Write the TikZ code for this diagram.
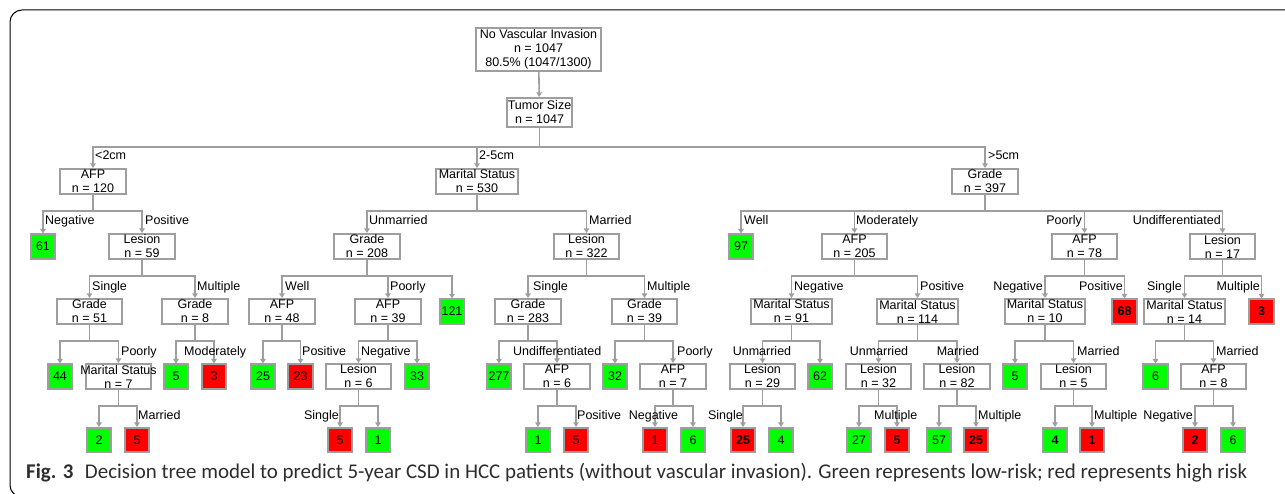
\documentclass[tikz,border=0pt]{standalone}
\usepackage{fontspec}
\usetikzlibrary{arrows.meta}
\newfontfamily\treefont{Liberation Sans}
\newfontfamily\capfont{Carlito}
\definecolor{lg}{RGB}{158,158,158}
\definecolor{lgreen}{RGB}{0,255,0}
\definecolor{lred}{RGB}{255,0,0}
\definecolor{capcol}{RGB}{45,45,45}
\tikzset{
 box/.style={draw=lg, line width=1.6pt, fill=white, minimum height=25.5pt, inner sep=0pt, align=center, font=\treefont\fontsize{12.5}{14}\selectfont},
 leaf/.style={draw=lg, line width=1.6pt, minimum width=24.5pt, minimum height=24.5pt, inner sep=0pt, font=\treefont\fontsize{12.5}{14}\selectfont},
 lab/.style={inner sep=0pt, font=\treefont\fontsize{12.5}{14}\selectfont},
 edge/.style={draw=lg, line width=1.6pt, -{Triangle[length=4.5pt,width=5.5pt]}},
}
\newcommand{\bx}[5]{\node[box, minimum width=#4pt] (#1) at (#2,#3) {#5};}
\newcommand{\lf}[5]{\node[leaf, fill=#4] (#1) at (#2,#3) {#5};}
\newcommand{\lb}[5]{\node[lab, anchor=#4] (#1) at (#2,#3) {#5};}
\newcommand{\ed}[3]{\draw[edge] (#1.south) -- ++(0,#3) -| (#2.north);}
\begin{document}
\begin{tikzpicture}[x=1pt,y=-1pt]
\useasboundingbox (0,0) rectangle (1285,494);
\draw[black, line width=1pt, rounded corners=12pt] (10,10) rectangle (1300,497);
% level 0-1
\node[box, minimum width=125.5pt, minimum height=43.5pt] (root) at (538.5,49.5) {No Vascular Invasion\\n = 1047\\80.5\% (1047/1300)};
\node[box, minimum width=65.5pt, minimum height=29.5pt] (ts) at (539.5,112.5) {Tumor Size\\n = 1047};
\draw[edge] (root) -- (ts);
% level 2
\bx{a120}{93}{181.5}{66.5}{AFP\\n = 120}
\bx{m530}{477}{181.5}{82.5}{Marital Status\\n = 530}
\bx{g397}{985}{181.5}{65.5}{Grade\\n = 397}
\ed{ts}{a120}{19}\ed{ts}{m530}{19}\ed{ts}{g397}{19}
\lb{t1}{95}{159.5}{base west}{<2cm}
\lb{t2}{479}{159.5}{base west}{2-5cm}
\lb{t3}{988}{159.5}{base west}{>5cm}
% level 3
\lf{f61}{43}{246.5}{lgreen}{61}
\bx{l59}{142}{246.5}{66.5}{Lesion\\n = 59}
\bx{g208}{367}{246.5}{66.5}{Grade\\n = 208}
\bx{l322}{586.5}{246.5}{65.5}{Lesion\\n = 322}
\lf{f97}{741}{246.5}{lgreen}{97}
\bx{a205}{854.5}{246.5}{65.5}{AFP\\n = 205}
\bx{a78}{1084.5}{246.5}{65.5}{AFP\\n = 78}
\bx{l17}{1222.5}{246.5}{65.5}{Lesion\\n = 17}
\ed{a120}{f61}{16}\ed{a120}{l59}{16}
\ed{m530}{g208}{16}\ed{m530}{l322}{16}
\ed{g397}{f97}{16}\ed{g397}{a205}{16}\ed{g397}{a78}{16}\ed{g397}{l17}{16}
\lb{s1}{45}{225}{base west}{Negative}
\lb{s2}{145}{225}{base west}{Positive}
\lb{s3}{369}{225}{base west}{Unmarried}
\lb{s4}{589}{225}{base west}{Married}
\lb{s5}{744}{225}{base west}{Well}
\lb{s6}{856}{225}{base west}{Moderately}
\lb{s7}{1082}{225}{base east}{Poorly}
\lb{s8}{1221}{225}{base east}{Undifferentiated}
% level 4
\bx{g51}{89.5}{311.5}{65.5}{Grade\\n = 51}
\bx{g8}{195}{311.5}{65.5}{Grade\\n = 8}
\bx{a48}{282}{311.5}{66.5}{AFP\\n = 48}
\bx{a39}{388}{311.5}{66.5}{AFP\\n = 39}
\lf{f121}{452}{311.5}{lgreen}{121}
\bx{g283}{528}{311.5}{66.5}{Grade\\n = 283}
\bx{g39}{644.5}{311.5}{65.5}{Grade\\n = 39}
\bx{m91}{791.5}{311.5}{81.5}{Marital Status\\n = 91}
\bx{m114}{917.5}{311.5}{80.5}{Marital Status\\n = 114}
\bx{m10}{1045}{311.5}{80.5}{Marital Status\\n = 10}
\lf{f68}{1124.5}{311.5}{lred}{\textbf{68}}
\bx{m14}{1184.5}{311.5}{81.5}{Marital Status\\n = 14}
\lf{f3r}{1261.5}{311.5}{lred}{\textbf{3}}
\ed{l59}{g51}{16}\ed{l59}{g8}{16}
\ed{g208}{a48}{16}\ed{g208}{a39}{16}\ed{g208}{f121}{16}
\ed{l322}{g283}{16}\ed{l322}{g39}{16}
\ed{a205}{m91}{16}\ed{a205}{m114}{16}
\ed{a78}{m10}{16}\ed{a78}{f68}{16}
\ed{l17}{m14}{16}\ed{l17}{f3r}{16}
\lb{u1}{92}{290.5}{base west}{Single}
\lb{u2}{197}{290.5}{base west}{Multiple}
\lb{u3}{285}{290.5}{base west}{Well}
\lb{u4}{390}{290.5}{base west}{Poorly}
\lb{u5}{533}{290.5}{base west}{Single}
\lb{u6}{647}{290.5}{base west}{Multiple}
\lb{u7}{794}{290.5}{base west}{Negative}
\lb{u8}{920}{290.5}{base west}{Positive}
\lb{u9}{1043}{290.5}{base east}{Negative}
\lb{u10}{1123}{290.5}{base east}{Positive}
\lb{u11}{1182}{290.5}{base east}{Single}
\lb{u12}{1260}{290.5}{base east}{Multiple}
% level 5
\lf{f44}{60}{376.5}{lgreen}{44}
\bx{m7}{118.5}{376.5}{65.5}{\makebox[0pt]{Marital Status}\\n = 7}
\lf{f5a}{176}{376.5}{lgreen}{5}
\lf{f3a}{214}{376.5}{lred}{3}
\lf{f25a}{263}{376.5}{lgreen}{25}
\lf{f23}{300.5}{376.5}{lred}{23}
\bx{l6}{358.5}{376.5}{65.5}{Lesion\\n = 6}
\lf{f33}{417}{376.5}{lgreen}{33}
\lf{f277}{499}{376.5}{lgreen}{277}
\bx{a6}{557}{376.5}{66.5}{AFP\\n = 6}
\lf{f32}{615}{376.5}{lgreen}{32}
\bx{a7}{673}{376.5}{66.5}{AFP\\n = 7}
\bx{l29}{762.5}{376.5}{65.5}{Lesion\\n = 29}
\lf{f62}{820}{376.5}{lgreen}{62}
\bx{l32}{878.5}{376.5}{65.5}{Lesion\\n = 32}
\bx{l82}{957}{376.5}{66.5}{Lesion\\n = 82}
\lf{f5b}{1015}{376.5}{lgreen}{5}
\bx{l5}{1073.5}{376.5}{65.5}{Lesion\\n = 5}
\lf{f6a}{1155.5}{376.5}{lgreen}{6}
\bx{a8}{1213.5}{376.5}{65.5}{AFP\\n = 8}
\ed{g51}{f44}{16}\ed{g51}{m7}{16}
\ed{g8}{f5a}{16}\ed{g8}{f3a}{16}
\ed{a48}{f25a}{16}\ed{a48}{f23}{16}
\ed{a39}{l6}{16}\ed{a39}{f33}{16}
\ed{g283}{f277}{16}\ed{g283}{a6}{16}
\ed{g39}{f32}{16}\ed{g39}{a7}{16}
\ed{m91}{l29}{16}\ed{m91}{f62}{16}
\ed{m114}{l32}{16}\ed{m114}{l82}{16}
\ed{m10}{f5b}{16}\ed{m10}{l5}{16}
\ed{m14}{f6a}{16}\ed{m14}{a8}{16}
\lb{v1}{121}{355}{base west}{Poorly}
\lb{v2}{184}{355}{base west}{Moderately}
\lb{v3}{302}{355}{base west}{Positive}
\lb{v4}{361}{355}{base west}{Negative}
\lb{v5}{513}{355}{base west}{Undifferentiated}
\lb{v6}{677}{355}{base west}{Poorly}
\lb{v7}{762}{355}{base}{Unmarried}
\lb{v8}{879}{355}{base}{Unmarried}
\lb{v9}{958}{355}{base}{Married}
\lb{v10}{1077}{355}{base west}{Married}
\lb{v11}{1216}{355}{base west}{Married}
% level 6
\lf{f2a}{99}{440}{lgreen}{2}
\lf{f5c}{137}{440}{lred}{5}
\lf{f5d}{340}{440}{lred}{5}
\lf{f1a}{378}{440}{lgreen}{1}
\lf{f1b}{538}{440}{lgreen}{1}
\lf{f5e}{576}{440}{lred}{5}
\lf{f1c}{655}{440}{lred}{1}
\lf{f6b}{693}{440}{lgreen}{6}
\lf{f25b}{743}{440}{lred}{\textbf{25}}
\lf{f4a}{781}{440}{lgreen}{4}
\lf{f27}{859}{440}{lgreen}{27}
\lf{f5f}{897}{440}{lred}{\textbf{5}}
\lf{f57}{939}{440}{lgreen}{57}
\lf{f25c}{976}{440}{lred}{\textbf{25}}
\lf{f4b}{1055}{440}{lgreen}{\textbf{4}}
\lf{f1d}{1092}{440}{lred}{\textbf{1}}
\lf{f2b}{1195}{440}{lred}{\textbf{2}}
\lf{f6c}{1233}{440}{lgreen}{6}
\ed{m7}{f2a}{16}\ed{m7}{f5c}{16}
\ed{l6}{f5d}{16}\ed{l6}{f1a}{16}
\ed{a6}{f1b}{16}\ed{a6}{f5e}{16}
\ed{a7}{f1c}{16}\ed{a7}{f6b}{16}
\ed{l29}{f25b}{16}\ed{l29}{f4a}{16}
\ed{l32}{f27}{16}\ed{l32}{f5f}{16}
\ed{l82}{f57}{16}\ed{l82}{f25c}{16}
\ed{l5}{f4b}{16}\ed{l5}{f1d}{16}
\ed{a8}{f2b}{16}\ed{a8}{f6c}{16}
\lb{w1}{138}{419}{base west}{Married}
\lb{w2}{339}{419}{base east}{Single}
\lb{w3}{577}{419}{base west}{Positive}
\lb{w4}{653.5}{419}{base}{Negative}
\lb{w5}{743}{419}{base east}{Single}
\lb{w6}{874}{419}{base west}{Multiple}
\lb{w7}{978}{419}{base west}{Multiple}
\lb{w8}{1094}{419}{base west}{Multiple}
\lb{w9}{1193}{419}{base east}{Negative}
% caption
\node[anchor=base west, inner sep=0pt] (cap) at (26,478.5) {\resizebox{1221pt}{!}{\color{capcol}\capfont\fontsize{19}{22}\selectfont\textbf{Fig. 3}\hspace{0.55em}Decision tree model to predict 5-year CSD in HCC patients (without vascular invasion). Green represents low-risk; red represents high risk}};
\end{tikzpicture}
\end{document}
